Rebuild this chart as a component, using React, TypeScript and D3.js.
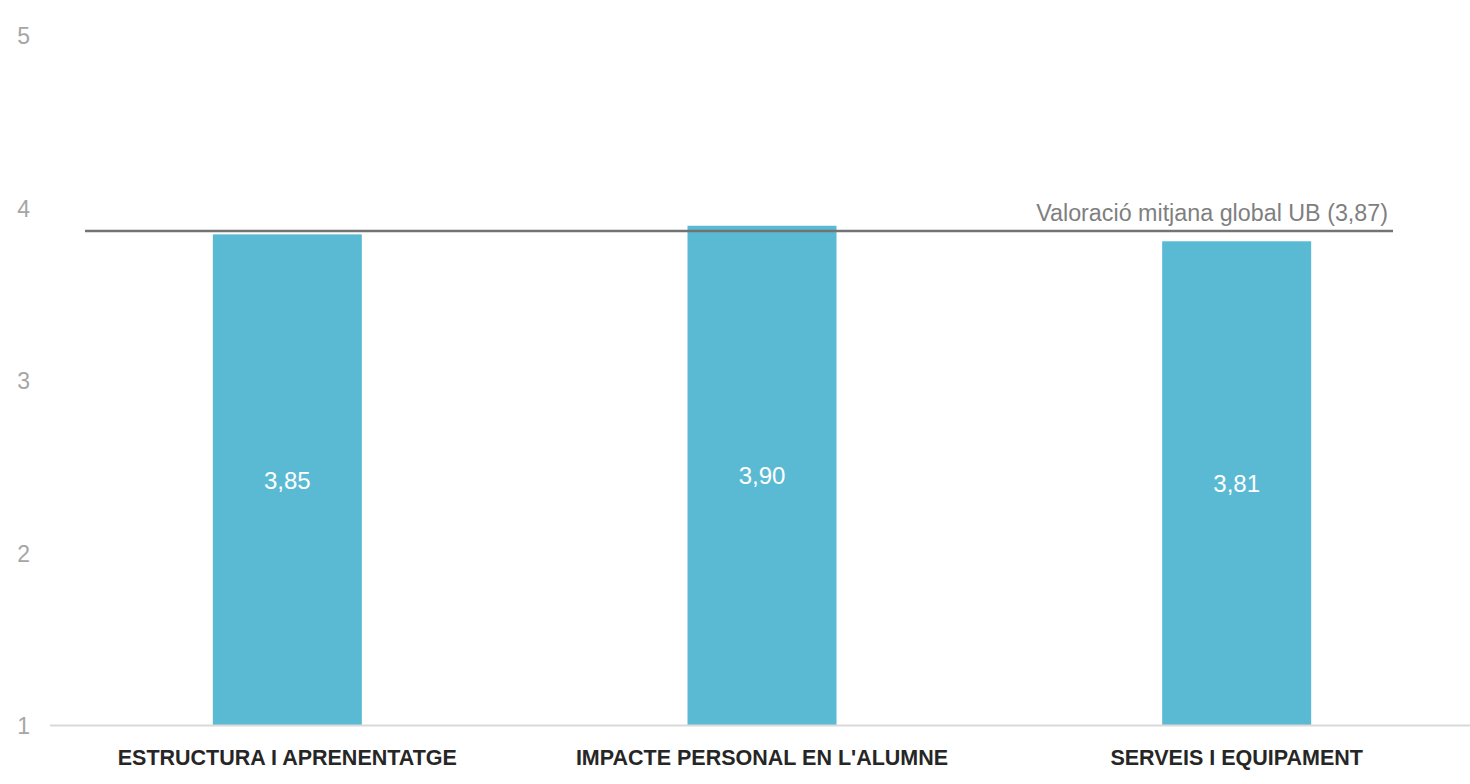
import React from "react";
import * as d3 from "d3";

const categories = ["ESTRUCTURA I APRENENTATGE", "IMPACTE PERSONAL EN L'ALUMNE", "SERVEIS I EQUIPAMENT"];
const values = [3.85, 3.9, 3.81];
const valueLabels = ["3,85", "3,90", "3,81"];
const yTicks = [1, 2, 3, 4, 5];
const globalMean = 3.87;
const globalLabel = "Valoració mitjana global UB (3,87)";

const W = 1470;
const H = 784;
const FONT = "'Liberation Sans', 'DejaVu Sans', sans-serif";

export default function App() {
  const y = d3.scaleLinear().domain([1, 5]).range([726, 36]);
  const pi = 1 - 149 / 474.67;
  const x = d3
    .scaleBand<string>()
    .domain(categories)
    .range([50, 1474])
    .paddingInner(pi)
    .paddingOuter(pi / 2);

  return (
    <svg
      width={W}
      height={H}
      style={{ position: "absolute", left: 0, top: 0, background: "#fff" }}
    >
      {yTicks.map((t) => (
        <text
          key={t}
          x={30}
          y={y(t)}
          dy="0.35em"
          textAnchor="end"
          fill="#a6a6a6"
          fontFamily={FONT}
          fontSize={23}
        >
          {t}
        </text>
      ))}
      {categories.map((c, i) => (
        <g key={c}>
          <rect
            x={x(c)}
            y={y(values[i])}
            width={x.bandwidth()}
            height={y(1) - y(values[i])}
            fill="#5bbad3"
          />
          <text
            x={(x(c) as number) + x.bandwidth() / 2}
            y={(y(values[i]) + y(1)) / 2}
            dy="0.35em"
            textAnchor="middle"
            fill="#ffffff"
            fontFamily={FONT}
            fontSize={24}
          >
            {valueLabels[i]}
          </text>
          <text
            x={(x(c) as number) + x.bandwidth() / 2}
            y={765}
            textAnchor="middle"
            fill="#262626"
            fontFamily={FONT}
            fontWeight="bold"
            fontSize={21.5}
          >
            {c}
          </text>
        </g>
      ))}
      <line x1={50} x2={W} y1={y(1) - 0.5} y2={y(1) - 0.5} stroke="#d9d9d9" strokeWidth={2} />
      <line x1={85} x2={1393} y1={y(globalMean)} y2={y(globalMean)} stroke="#737373" strokeWidth={2.5} />
      <text
        x={1388}
        y={221}
        textAnchor="end"
        fill="#7f7f7f"
        fontFamily={FONT}
        fontSize={23.3}
      >
        {globalLabel}
      </text>
    </svg>
  );
}
